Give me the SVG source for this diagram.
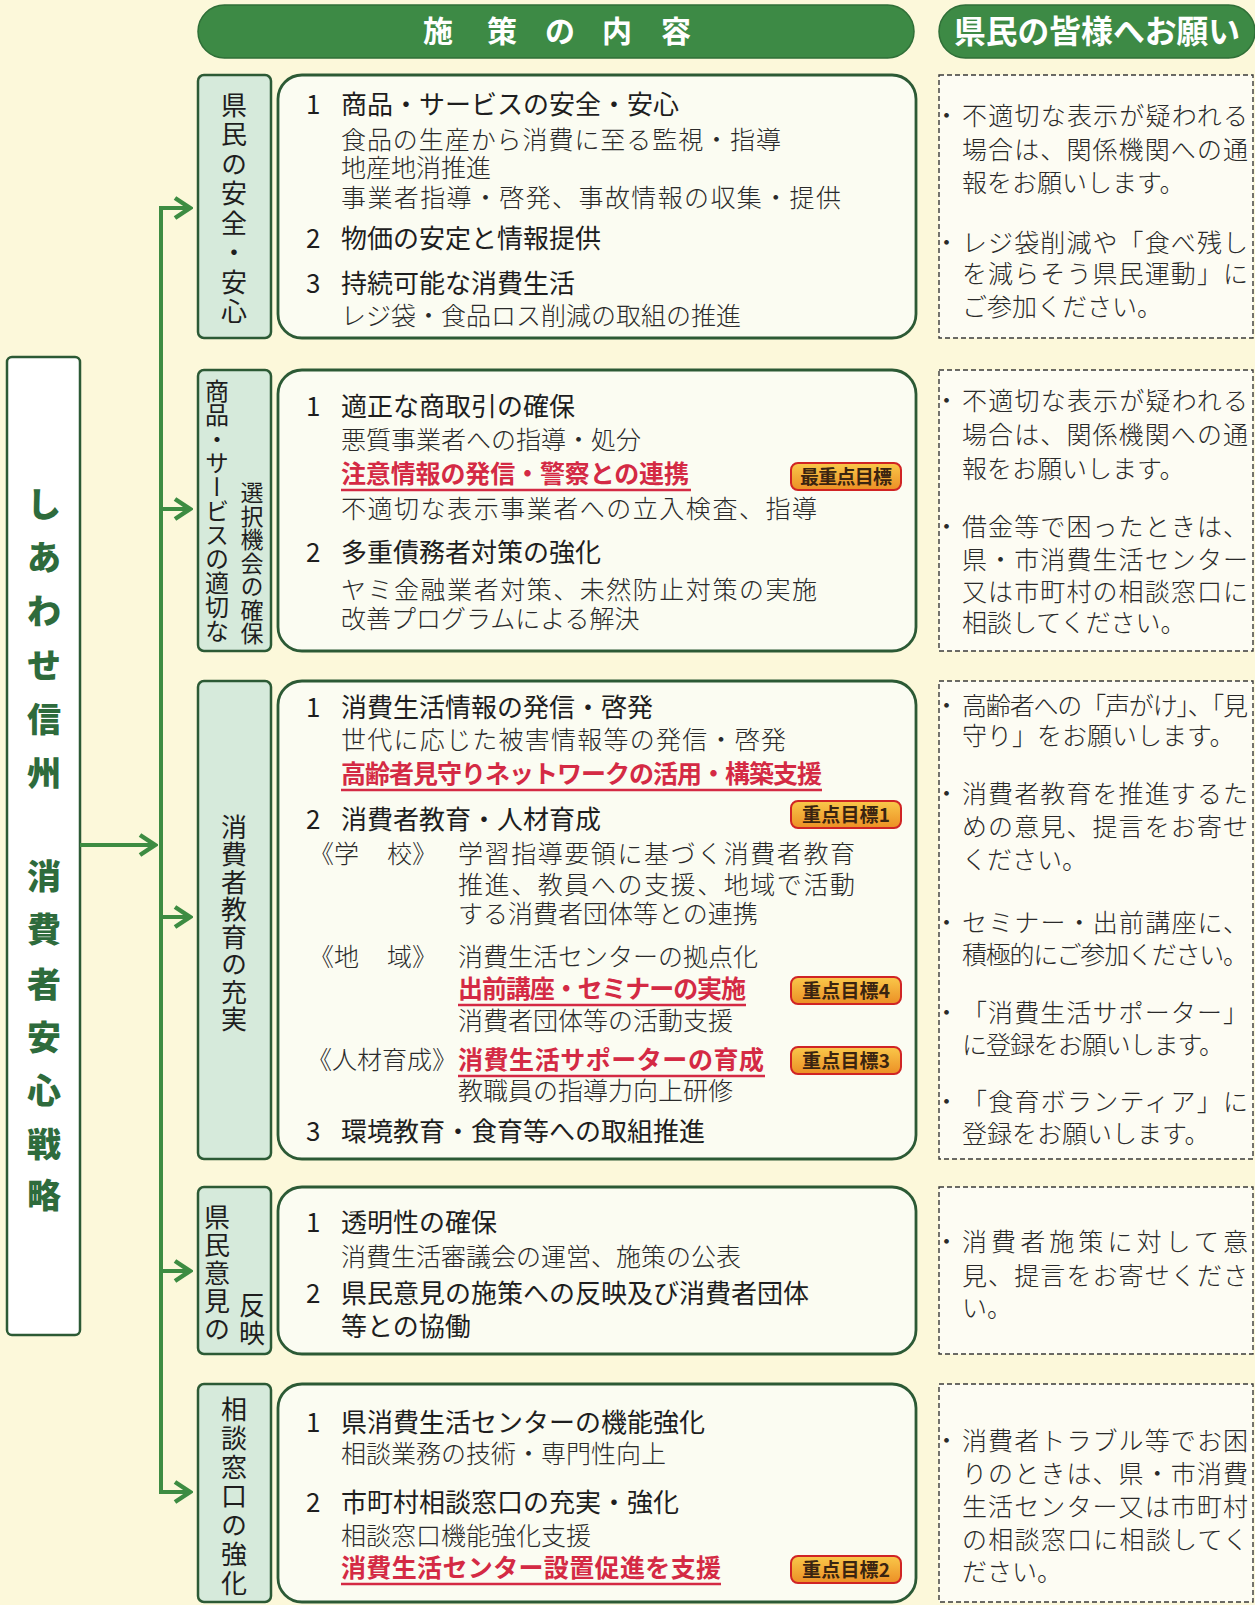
<svg xmlns="http://www.w3.org/2000/svg" width="1255" height="1605" viewBox="0 0 1255 1605">
<style>
text{font-family:'Noto Sans CJK JP','Noto Sans',sans-serif;}
.h{font-size:26px;font-weight:400;fill:#1e1e1e;}
.s{font-size:25px;font-weight:300;fill:#2a2a2a;}
.r{font-size:25px;font-weight:700;fill:#d42a44;}
.rt{font-size:25px;font-weight:300;fill:#2a2a2a;}
.cat{fill:#d6eadb;stroke:#2c5a35;stroke-width:2.5;}
.box{fill:#fbfcf2;stroke:#2c5a35;stroke-width:2.8;}
.dash{fill:#fdfcf3;stroke:#3a3a3a;stroke-width:1.4;stroke-dasharray:5 3;}
.vt{font-size:26px;font-weight:400;fill:#1e1e1e;writing-mode:vertical-rl;}
.vs{font-size:24px;}
.vr{font-size:23px;}
.main{font-size:34px;font-weight:900;fill:#2e6b3c;text-anchor:middle;}
.ul{stroke:#d42a44;stroke-width:2.5;}
.bd{stroke:#d02424;stroke-width:2;fill:url(#bg);}
.bt{font-size:19px;font-weight:700;fill:#3a2410;text-anchor:middle;}
.hd{fill:#3d8a45;stroke:#2f6f37;stroke-width:1.5;}
.ht{font-size:30px;font-weight:700;fill:#ffffff;text-anchor:middle;}
.ht2{font-size:32px;}
.con{stroke:#3d8c42;stroke-width:4;fill:none;}
</style>
<defs>
<linearGradient id="bg" x1="0" y1="0" x2="0" y2="1">
<stop offset="0" stop-color="#f9c84a"/>
<stop offset="1" stop-color="#ec8f25"/>
</linearGradient>
<marker id="chev" viewBox="0 0 20 24" refX="17" refY="12" markerWidth="20" markerHeight="24" markerUnits="userSpaceOnUse" orient="auto-start-reverse">
<path d="M2,2 L17,12 L2,22" fill="none" stroke="#3d8c42" stroke-width="4.5"/>
</marker>
</defs>
<rect width="1255" height="1605" fill="#fcf8da"/>

<g id="header1">
<rect class="hd" x="198" y="5" width="716" height="53" rx="26.5"/>
<text class="ht" x="438 502 560 617 676" y="42">施策の内容</text>
</g>
<g id="header2">
<rect class="hd" x="939" y="5" width="316" height="53" rx="26.5"/>
<text class="ht ht2" x="1097" y="43" textLength="286" lengthAdjust="spacingAndGlyphs">県民の皆様へお願い</text>
</g>

<g id="main">
<rect x="7" y="357" width="73" height="978" rx="5" fill="#ffffff" stroke="#2c5a35" stroke-width="2.5"/>
<text class="main" x="44" y="517">し</text>
<text class="main" x="44" y="570">あ</text>
<text class="main" x="44" y="624">わ</text>
<text class="main" x="44" y="678">せ</text>
<text class="main" x="44" y="732">信</text>
<text class="main" x="44" y="786">州</text>
<text class="main" x="44" y="889">消</text>
<text class="main" x="44" y="942">費</text>
<text class="main" x="44" y="997">者</text>
<text class="main" x="44" y="1050">安</text>
<text class="main" x="44" y="1103">心</text>
<text class="main" x="44" y="1157">戦</text>
<text class="main" x="44" y="1208">略</text>
</g>

<g id="connectors">
<path class="con" d="M190 208 H161 V1492 H190" marker-start="url(#chev)" marker-end="url(#chev)"/>
<path class="con" d="M161 509 H190" marker-end="url(#chev)"/>
<path class="con" d="M161 917 H190" marker-end="url(#chev)"/>
<path class="con" d="M161 1271 H190" marker-end="url(#chev)"/>
<path class="con" d="M80 845 H155" marker-end="url(#chev)"/>
</g>

<!-- Row 1 -->
<g id="cat1">
<rect class="cat" x="198" y="75" width="73" height="263" rx="6"/>
<text class="vt" x="234" y="92" letter-spacing="3.5">県民の安全・安心</text>
</g>
<g id="content1">
<rect class="box" x="278" y="75" width="638" height="263" rx="24"/>
<text class="h" x="306" y="114">1</text><text class="h" x="341" y="114">商品・サービスの安全・安心</text>
<text class="s" x="341" y="149" textLength="440">食品の生産から消費に至る監視・指導</text>
<text class="s" x="341" y="177">地産地消推進</text>
<text class="s" x="341" y="207" textLength="500">事業者指導・啓発、事故情報の収集・提供</text>
<text class="h" x="306" y="248">2</text><text class="h" x="341" y="248">物価の安定と情報提供</text>
<text class="h" x="306" y="293">3</text><text class="h" x="341" y="293">持続可能な消費生活</text>
<text class="s" x="341" y="325">レジ袋・食品ロス削減の取組の推進</text>
</g>
<g id="ask1">
<rect class="dash" x="939" y="75" width="314" height="263"/>
<text class="rt" x="934" y="125">・</text><text class="rt" x="962" y="125" textLength="286">不適切な表示が疑われる</text>
<text class="rt" x="962" y="159" textLength="286">場合は、関係機関への通</text>
<text class="rt" x="962" y="192">報をお願いします。</text>
<text class="rt" x="934" y="252">・</text><text class="rt" x="962" y="252" textLength="286">レジ袋削減や「食べ残し</text>
<text class="rt" x="962" y="283" textLength="286">を減らそう県民運動」に</text>
<text class="rt" x="962" y="316">ご参加ください。</text>
</g>

<!-- Row 2 -->
<g id="cat2">
<rect class="cat" x="198" y="370" width="73" height="281" rx="6"/>
<text class="vt vs" x="217" y="379">商品・サービスの適切な</text>
<text class="vt vr" x="252" y="481" letter-spacing="0.5">選択機会の確保</text>
</g>
<g id="content2">
<rect class="box" x="278" y="370" width="638" height="281" rx="24"/>
<text class="h" x="306" y="416">1</text><text class="h" x="341" y="416">適正な商取引の確保</text>
<text class="s" x="341" y="449">悪質事業者への指導・処分</text>
<text class="r" x="341" y="483" textLength="348">注意情報の発信・警察との連携</text>
<line class="ul" x1="341" y1="490" x2="691" y2="490"/>
<rect class="bd" x="791" y="463" width="110" height="27" rx="7"/>
<text class="bt" x="846" y="484" textLength="92">最重点目標</text>
<text class="s" x="341" y="518" textLength="476">不適切な表示事業者への立入検査、指導</text>
<text class="h" x="306" y="562">2</text><text class="h" x="341" y="562">多重債務者対策の強化</text>
<text class="s" x="341" y="599" textLength="476">ヤミ金融業者対策、未然防止対策の実施</text>
<text class="s" x="341" y="628">改善プログラムによる解決</text>
</g>
<g id="ask2">
<rect class="dash" x="939" y="370" width="314" height="281"/>
<text class="rt" x="934" y="410">・</text><text class="rt" x="962" y="410" textLength="286">不適切な表示が疑われる</text>
<text class="rt" x="962" y="444" textLength="286">場合は、関係機関への通</text>
<text class="rt" x="962" y="478">報をお願いします。</text>
<text class="rt" x="934" y="536">・</text><text class="rt" x="962" y="536" textLength="286">借金等で困ったときは、</text>
<text class="rt" x="962" y="569" textLength="286">県・市消費生活センター</text>
<text class="rt" x="962" y="601" textLength="286">又は市町村の相談窓口に</text>
<text class="rt" x="962" y="632">相談してください。</text>
</g>

<!-- Row 3 -->
<g id="cat3">
<rect class="cat" x="198" y="681" width="73" height="478" rx="6"/>
<text class="vt" x="234" y="814" letter-spacing="1.5">消費者教育の充実</text>
</g>
<g id="content3">
<rect class="box" x="278" y="681" width="638" height="478" rx="24"/>
<text class="h" x="306" y="717">1</text><text class="h" x="341" y="717">消費生活情報の発信・啓発</text>
<text class="s" x="341" y="749" textLength="445">世代に応じた被害情報等の発信・啓発</text>
<text class="r" x="341" y="783" textLength="481">高齢者見守りネットワークの活用・構築支援</text>
<line class="ul" x1="341" y1="790" x2="822" y2="790"/>
<text class="h" x="306" y="829">2</text><text class="h" x="341" y="829">消費者教育・人材育成</text>
<rect class="bd" x="791" y="801" width="110" height="27" rx="7"/>
<text class="bt" x="846" y="822" textLength="88">重点目標1</text>
<text class="s" x="309" y="863">《学</text><text class="s" x="387" y="863">校》</text>
<text class="s" x="458" y="863" textLength="397">学習指導要領に基づく消費者教育</text>
<text class="s" x="458" y="894" textLength="397">推進、教員への支援、地域で活動</text>
<text class="s" x="458" y="923">する消費者団体等との連携</text>
<text class="s" x="309" y="966">《地</text><text class="s" x="387" y="966">域》</text>
<text class="s" x="458" y="966">消費生活センターの拠点化</text>
<text class="r" x="458" y="998" textLength="288">出前講座・セミナーの実施</text>
<line class="ul" x1="458" y1="1005" x2="746" y2="1005"/>
<rect class="bd" x="791" y="977" width="110" height="27" rx="7"/>
<text class="bt" x="846" y="998" textLength="88">重点目標4</text>
<text class="s" x="458" y="1030">消費者団体等の活動支援</text>
<text class="s" x="307" y="1069" textLength="150">《人材育成》</text>
<text class="r" x="458" y="1069" textLength="306">消費生活サポーターの育成</text>
<line class="ul" x1="458" y1="1076" x2="765" y2="1076"/>
<rect class="bd" x="791" y="1047" width="110" height="27" rx="7"/>
<text class="bt" x="846" y="1068" textLength="88">重点目標3</text>
<text class="s" x="458" y="1100">教職員の指導力向上研修</text>
<text class="h" x="306" y="1141">3</text><text class="h" x="341" y="1141">環境教育・食育等への取組推進</text>
</g>
<g id="ask3">
<rect class="dash" x="939" y="681" width="314" height="478"/>
<text class="rt" x="934" y="715">・</text><text class="rt" x="962" y="715" textLength="286">高齢者への「声がけ」、「見</text>
<text class="rt" x="962" y="745">守り」をお願いします。</text>
<text class="rt" x="934" y="803">・</text><text class="rt" x="962" y="803" textLength="286">消費者教育を推進するた</text>
<text class="rt" x="962" y="836" textLength="286">めの意見、提言をお寄せ</text>
<text class="rt" x="962" y="869">ください。</text>
<text class="rt" x="934" y="932">・</text><text class="rt" x="962" y="932" textLength="286">セミナー・出前講座に、</text>
<text class="rt" x="962" y="964" textLength="286">積極的にご参加ください。</text>
<text class="rt" x="934" y="1022">・</text><text class="rt" x="962" y="1022" textLength="286">「消費生活サポーター」</text>
<text class="rt" x="962" y="1054" textLength="262">に登録をお願いします。</text>
<text class="rt" x="934" y="1111">・</text><text class="rt" x="962" y="1111" textLength="286">「食育ボランティア」に</text>
<text class="rt" x="962" y="1143">登録をお願いします。</text>
</g>

<!-- Row 4 -->
<g id="cat4">
<rect class="cat" x="198" y="1187" width="73" height="167" rx="6"/>
<text class="vt" x="217" y="1204" letter-spacing="2">県民意見の</text>
<text class="vt" x="252" y="1292" letter-spacing="2">反映</text>
</g>
<g id="content4">
<rect class="box" x="278" y="1187" width="638" height="167" rx="24"/>
<text class="h" x="306" y="1232">1</text><text class="h" x="341" y="1232">透明性の確保</text>
<text class="s" x="341" y="1266">消費生活審議会の運営、施策の公表</text>
<text class="h" x="306" y="1303">2</text><text class="h" x="341" y="1303">県民意見の施策への反映及び消費者団体</text>
<text class="h" x="341" y="1336">等との協働</text>
</g>
<g id="ask4">
<rect class="dash" x="939" y="1187" width="314" height="167"/>
<text class="rt" x="934" y="1251">・</text><text class="rt" x="962" y="1251" textLength="286">消費者施策に対して意</text>
<text class="rt" x="962" y="1285" textLength="286">見、提言をお寄せくださ</text>
<text class="rt" x="962" y="1317">い。</text>
</g>

<!-- Row 5 -->
<g id="cat5">
<rect class="cat" x="198" y="1384" width="73" height="218" rx="6"/>
<text class="vt" x="234" y="1396" letter-spacing="3">相談窓口の強化</text>
</g>
<g id="content5">
<rect class="box" x="278" y="1384" width="638" height="218" rx="24"/>
<text class="h" x="306" y="1432">1</text><text class="h" x="341" y="1432">県消費生活センターの機能強化</text>
<text class="s" x="341" y="1463">相談業務の技術・専門性向上</text>
<text class="h" x="306" y="1512">2</text><text class="h" x="341" y="1512">市町村相談窓口の充実・強化</text>
<text class="s" x="341" y="1545">相談窓口機能強化支援</text>
<text class="r" x="341" y="1577" textLength="380">消費生活センター設置促進を支援</text>
<line class="ul" x1="341" y1="1584" x2="721" y2="1584"/>
<rect class="bd" x="791" y="1556" width="110" height="27" rx="7"/>
<text class="bt" x="846" y="1577" textLength="88">重点目標2</text>
</g>
<g id="ask5">
<rect class="dash" x="939" y="1384" width="314" height="218"/>
<text class="rt" x="934" y="1450">・</text><text class="rt" x="962" y="1450" textLength="286">消費者トラブル等でお困</text>
<text class="rt" x="962" y="1483" textLength="286">りのときは、県・市消費</text>
<text class="rt" x="962" y="1516" textLength="286">生活センター又は市町村</text>
<text class="rt" x="962" y="1549" textLength="286">の相談窓口に相談してく</text>
<text class="rt" x="962" y="1581">ださい。</text>
</g>
</svg>
